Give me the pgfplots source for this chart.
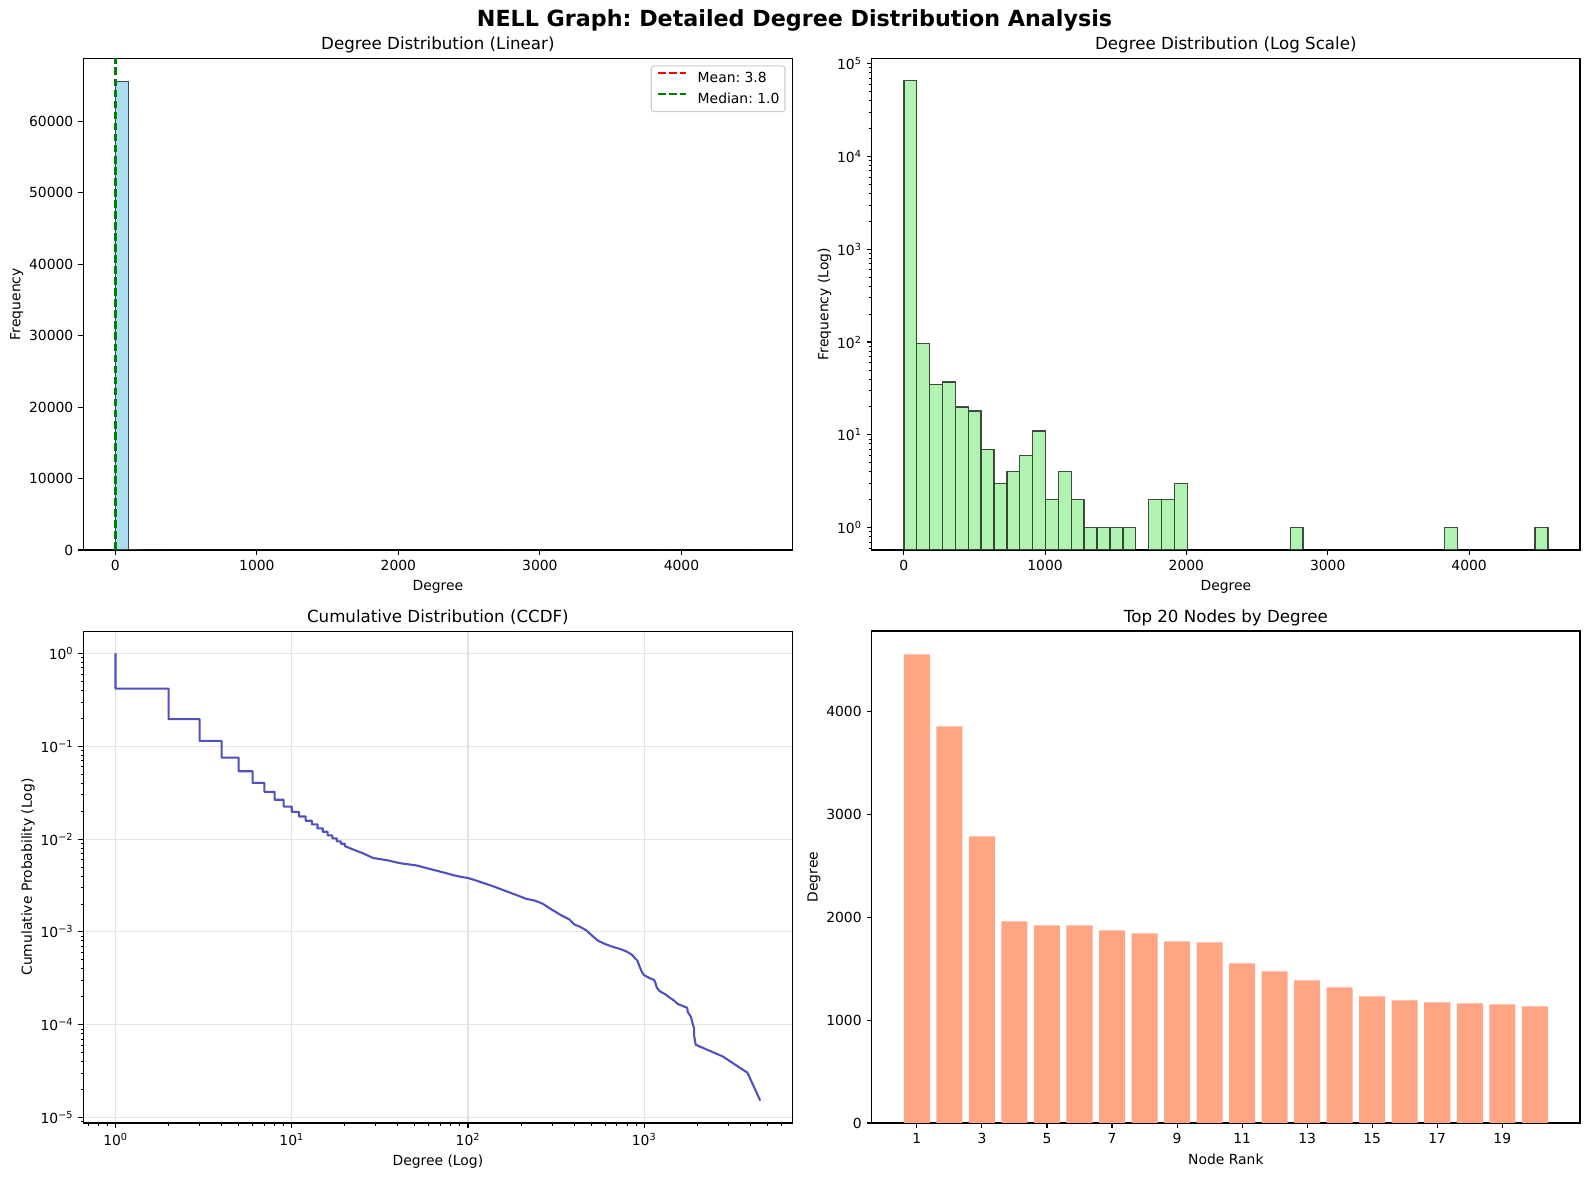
\documentclass[border=0pt]{standalone}
\usepackage{fontspec}
\setmainfont{DejaVu Sans}
\usepackage{pgfplots}
\usepackage{pgfplotstable}
\pgfplotsset{compat=1.18}
\frenchspacing

\definecolor{histblue}{RGB}{171,221,241}
\definecolor{histgreen}{RGB}{177,243,177}
\definecolor{barcoral}{RGB}{255,165,132}
\definecolor{ccdfblue}{RGB}{80,80,190}
\definecolor{gridgray}{RGB}{228,228,228}
\definecolor{mplgreen}{RGB}{0,128,0}
\definecolor{legendedge}{RGB}{204,204,204}

\newcommand\pow[1]{10\textsuperscript{#1}}

\pgfplotsset{
  every axis title/.style={at={(0.5,1)}, anchor=base, yshift=6.5bp, inner sep=0pt,
    font=\fontsize{12bp}{14bp}\selectfont},
  mplaxis/.style={
    scale only axis,
    anchor=south west,
    axis line style={line width=0.8bp},
    tick align=outside,
    tick pos=left,
    major tick length=3.5bp,
    minor tick length=2bp,
    every tick/.style={black, line width=0.8bp},
    every minor tick/.append style={line width=0.6bp},
    tick label style={font=\fontsize{10bp}{12bp}\selectfont},
    xticklabel style={inner sep=0pt, yshift=-3.5bp},
    yticklabel style={inner sep=0pt, xshift=-3.5bp},
    /pgf/number format/assume math mode=true,
    /pgf/number format/1000 sep={},
    scaled ticks=false,
    label style={font=\fontsize{10bp}{12bp}\selectfont, inner sep=0pt},
    xlabel shift=7bp, ylabel shift=4bp,
  },
  histbar/.style={ybar, bar width=91.12, bar shift=0pt, draw=black, draw opacity=0.7, line width=1bp, forget plot},
}

% histogram counts, 50 equal bins over degrees 1..4557 (bin centres)
\pgfplotstableread{
center count
46.56 65540
137.68 96
228.80 35
319.92 37
411.04 20
502.16 18
593.28 7
684.40 3
775.52 4
866.64 6
957.76 11
1048.88 2
1140.00 4
1231.12 2
1322.24 1
1413.36 1
1504.48 1
1595.60 1
1777.84 2
1868.96 2
1960.08 3
2780.16 1
3873.60 1
4511.44 1
}\histdata

\begin{document}
\begin{tikzpicture}
\path[use as bounding box] (0,0) rectangle (1144.08bp,850.32bp);

\node[anchor=base, font=\fontsize{16bp}{19bp}\selectfont\bfseries] at (572.04bp,831.1bp)
  {NELL Graph: Detailed Degree Distribution Analysis};

% ---------- linear histogram ----------
\begin{axis}[mplaxis,
  at={(59.98bp,454.32bp)}, width=510.6bp, height=354.0bp,
  title={Degree Distribution (Linear)},
  xlabel={Degree}, ylabel={Frequency},
  xmin=-226.8, xmax=4784.8, ymin=0, ymax=68817,
  xtick={0,1000,2000,3000,4000}, ytick={0,10000,20000,30000,40000,50000,60000},
  legend cell align=left,
  legend image code/.code={\draw[#1] (0bp,3.6bp) -- (20bp,3.6bp);},
  legend style={at={(1,1)}, anchor=north east, xshift=-5bp, yshift=-5bp,
    draw=legendedge, line width=0.8bp, rounded corners=2bp, fill=white,
    font=\fontsize{10bp}{12bp}\selectfont, inner xsep=4bp, inner ysep=4bp,
    row sep=5bp, column sep=0pt,
    nodes={inner sep=0pt, text height=8bp, text depth=2bp},
    /tikz/every odd column/.append style={column sep=8bp}},
]
\addplot[histbar, fill=histblue] table[x=center, y=count] {\histdata};
\addplot[red, line width=1.5bp, dash pattern=on 5.55bp off 2.4bp] coordinates {(3.8,0) (3.8,68817)};
\addlegendentry{Mean: 3.8}
\addplot[mplgreen, line width=1.5bp, dash pattern=on 5.55bp off 2.4bp] coordinates {(1.0,0) (1.0,68817)};
\addlegendentry{Median: 1.0}
\end{axis}

% ---------- log histogram ----------
\begin{axis}[mplaxis,
  at={(627.6bp,454.32bp)}, width=510.0bp, height=354.0bp,
  title={Degree Distribution (Log Scale)},
  xlabel={Degree}, ylabel={Frequency (Log)},
  xmin=-226.8, xmax=4784.8, ymode=log, ymin=0.574, ymax=114100,
  log origin y=infty,
  xtick={0,1000,2000,3000,4000},
  ytick={1,10,100,1000,10000,100000},
  yticklabels={\pow{0},\pow{1},\pow{2},\pow{3},\pow{4},\pow{5}},
  minor ytick={0.6,0.7,0.8,0.9,2,3,4,5,6,7,8,9,20,30,40,50,60,70,80,90,200,300,400,500,600,700,800,900,2000,3000,4000,5000,6000,7000,8000,9000,20000,30000,40000,50000,60000,70000,80000,90000},
]
\addplot[histbar, fill=histgreen] table[x=center, y=count] {\histdata};
\end{axis}

% ---------- CCDF ----------
\begin{axis}[mplaxis,
  at={(59.98bp,41.76bp)}, width=510.6bp, height=354.2bp,
  title={Cumulative Distribution (CCDF)},
  xlabel={Degree (Log)}, ylabel={Cumulative Probability (Log)},
  xmode=log, ymode=log,
  xmin=0.6564, xmax=6944, ymin=8.73e-6, ymax=1.741,
  xtick={1,10,100,1000},
  xticklabels={\pow{0},\pow{1},\pow{2},\pow{3}},
  minor xtick={0.7,0.8,0.9,2,3,4,5,6,7,8,9,20,30,40,50,60,70,80,90,200,300,400,500,600,700,800,900,2000,3000,4000,5000,6000},
  ytick={1e-5,1e-4,1e-3,1e-2,1e-1,1},
  yticklabels={\pow{−5},\pow{−4},\pow{−3},\pow{−2},\pow{−1},\pow{0}},
  minor ytick={9e-6,2e-5,3e-5,4e-5,5e-5,6e-5,7e-5,8e-5,9e-5,2e-4,3e-4,4e-4,5e-4,6e-4,7e-4,8e-4,9e-4,0.002,0.003,0.004,0.005,0.006,0.007,0.008,0.009,0.02,0.03,0.04,0.05,0.06,0.07,0.08,0.09,0.2,0.3,0.4,0.5,0.6,0.7,0.8,0.9},
  grid=major, major grid style={gridgray, line width=0.8bp},
]
\addplot[ccdfblue, line width=1.5bp, line join=round] coordinates {
(1,1) (1,0.417) (2,0.417) (2,0.196) (3,0.196) (3,0.114) (4,0.114) (4,0.0755)
(5,0.0755) (5,0.0538) (6,0.0538) (6,0.0403) (7,0.0403) (7,0.0323) (8,0.0323) (8,0.0265)
(9,0.0265) (9,0.0224) (10,0.0224) (10,0.01965) (11,0.01965) (11,0.01751) (12,0.01751) (12,0.01574)
(13,0.01574) (13,0.01437) (14,0.01437) (14,0.01301) (15,0.01301) (15,0.01198) (16,0.01198) (16,0.01094)
(17,0.01094) (17,0.01016) (18,0.01016) (18,0.00943) (19,0.00943) (19,0.0089) (20,0.0089) (20,0.0084)
(22,0.0078) (25,0.0071) (29,0.00625) (35,0.0059) (41,0.0055) (51,0.0052) (63,0.00468) (75,0.0043)
(82,0.0041) (92,0.0039) (100,0.00381) (115,0.0035) (139,0.0031) (165,0.00274) (190,0.00248) (214,0.00227)
(240,0.00217) (266,0.00201) (290,0.0018) (310,0.00167) (340,0.0015) (377,0.00136) (402,0.0012) (430,0.00114)
(469,0.00104) (510,0.0009) (546,0.000806) (600,0.00074) (664,0.00069) (720,0.00066) (790,0.000618) (850,0.00057)
(893,0.000513) (915,0.00049) (940,0.000427) (965,0.00038) (991,0.000347) (1020,0.000334) (1070,0.000319)
(1135,3.0394e-4) (1154,2.8874e-4) (1164,2.7354e-4) (1173,2.5835e-4) (1193,2.4315e-4) (1232,2.2795e-4)
(1319,2.1276e-4) (1387,1.9756e-4) (1475,1.8236e-4) (1553,1.6717e-4) (1757,1.5197e-4) (1767,1.3677e-4)
(1844,1.2157e-4) (1874,1.0638e-4) (1922,9.118e-5) (1922,7.598e-5) (1961,6.079e-5) (2788,4.559e-5)
(3857,3.039e-5) (4557,1.520e-5)
};
\end{axis}

% ---------- top 20 nodes ----------
\begin{axis}[mplaxis,
  at={(627.6bp,41.76bp)}, width=510.0bp, height=354.2bp,
  title={Top 20 Nodes by Degree},
  xlabel={Node Rank}, ylabel={Degree},
  xmin=-0.39, xmax=21.39, ymin=0, ymax=4785,
  xtick={1,3,5,7,9,11,13,15,17,19}, ytick={0,1000,2000,3000,4000},
]
\addplot[ybar, bar width=0.8, bar shift=0pt, fill=barcoral, draw=none] coordinates {
(1,4557) (2,3857) (3,2788) (4,1961) (5,1922) (6,1922) (7,1874) (8,1844) (9,1767) (10,1757)
(11,1553) (12,1475) (13,1387) (14,1319) (15,1232) (16,1193) (17,1173) (18,1164) (19,1154) (20,1135)
};
\end{axis}
\end{tikzpicture}
\end{document}
